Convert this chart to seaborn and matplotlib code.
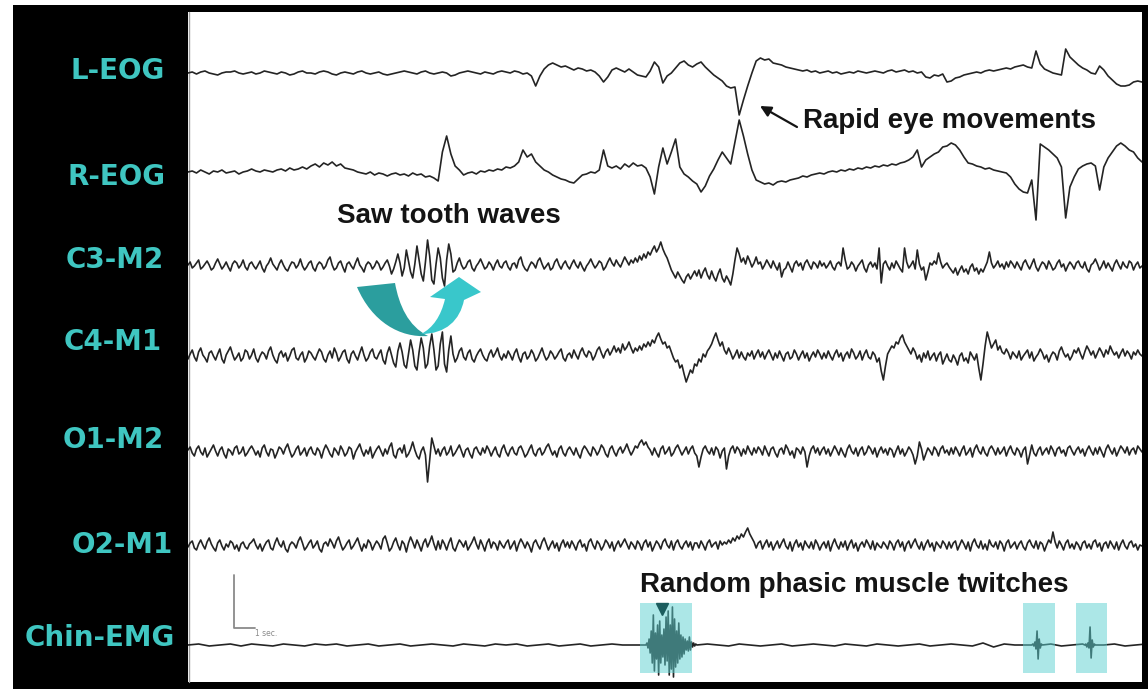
import numpy as np
import pandas as pd
import matplotlib
matplotlib.use("Agg")
import matplotlib.pyplot as plt
from matplotlib.path import Path
from matplotlib.patches import PathPatch, Rectangle
import seaborn as sns

sns.set_theme(style="white")
plt.rcParams["font.family"] = ["DejaVu Sans"]

# ---------------------------------------------------------------------------
# Signals: deflection of each derivation (upward positive)
# EOG sampled every 0.2 s, EEG every 0.1 s
# ---------------------------------------------------------------------------
EOG_STEP = 0.2
EEG_STEP = 0.1

channels = ["L-EOG", "R-EOG", "C3-M2", "C4-M1", "O1-M2", "O2-M1", "Chin-EMG"]

l_eog = (
    [0, 1, -1, 1, 2, 0, -1, -2, 0, 1, 1, 2, 0, -1, 0, 1, -1, 0, 2, 1]
    + [0, -1, 1, 0, -2, -1, 1, 2, 0, 0, -1, 1, 2, 1, -1, -2, 0, 1, 0, -1]
    + [1, 2, 0, -1, 0, 1, -1, -2, -1, 0, 1, 2, 1, 0, -1, 1, 2, 0, -1, 0]
    + [1, 0, -3, -2, 0, 1, 2, 1, 0, -1, 1, 0, -1, 1, 2, 1, 0, 2, 1, -1]
    + [0, -3, -13, -3, 4, 8, 10, 8, 6, 7, 5, 3, 5, 4, 2, 3, 1, -3, -9, -4]
    + [3, 5, 3, 1, 4, 1, -2, -3, -4, 2, 11, 6, -10, -3, 0, 5, 10, 12, 8, 6]
    + [9, 11, 6, 2, -2, -5, -8, -13, -15, -14, -42, -27, -13, 0, 12, 15, 13, 14, 10, 9]
    + [8, 6, 5, 4, 3, 2, 3, 1, 2, 0, 1, 2, 0, 1, -1, 0, 1, 0, 2, 1]
    + [0, 1, 2, 1, 0, 2, 3, 1, 2, 3, 1, 2, 0, 1, -4, -5, -2, -3, -1, -9]
    + [-8, -5, -4, -2, -1, 0, 1, 0, 2, 3, 2, 3, 4, 5, 4, 6, 7, 8, 6, 5]
    + [22, 9, 4, 2, 0, -1, -2, 24, 16, 12, 8, 5, 3, 0, -1, 7, 3, -3, -7, -11,
       -13, -13, -12, -9, -8, -9]
)

r_eog = (
    [0, 1, -1, 2, 0, -2, 1, 0, 2, -1, 0, 1, -2, 0, 1, 3, 1, 0, 2, 1]
    + [0, 2, 3, 1, 4, 2, 3, 5, 3, 6, 8, 5, 9, 7, 10, 6, 8, 4, 3, 2]
    + [0, -1, -2, 0, -3, -1, -2, -4, -2, -1, -3, -2, -4, -1, -3, -2, -5, -4, -6, -9]
    + [20, 36, 18, 6, 2, -3, -1, 0, -2, 1, 0, 2, 1, 3, 2, 5, 4, 6, 10, 22]
    + [15, 18, 10, 6, 2, 0, -3, -5, -7, -8, -10, -11, -7, -3, -2, 0, -1, 2, 22, 6]
    + [4, 6, 3, 8, 5, 9, 6, 7, 4, -5, -22, 5, 24, 8, 20, 33, 5, -2, -5, -9]
    + [-12, -20, -14, -4, 3, 12, 20, 14, 8, 30, 52, 36, 18, 2, -8, -10, -12, -11, -13, -10]
    + [-9, -10, -8, -7, -6, -4, -5, -3, -2, -1, -2, 0, 1, 0, 2, 1, 3, 2, 4, 3]
    + [5, 4, 6, 5, 7, 6, 8, 7, 9, 10, 12, 15, 22, 5, 12, 15, 18, 20, 25, 26]
    + [29, 27, 22, 15, 9, 8, 6, 5, 3, 4, 2, 1, 0, -1, -5, -12, -17, -20, -21, -8]
    + [-48, 28, 25, 22, 18, 14, 5, -46, -15, -5, 3, 6, 8, 9, 6, -18, 5, 14, 20, 26,
       29, 26, 22, 20, 14, 10]
)

c3_m2 = (
    [1, 4, -2, 0, 3, 6, -3, -1, 2, 5, 1, -4, -2, 3, 7, 2, -3, 0, 4, -1, -5, 2, 5, 3, -2, 1, 6, -1, -4, 2]
    + [4, 0, -3, 1, 5, -2, -6, 0, 3, 8, 2, -1, -4, 2, 6, 1, -3, -5, 0, 4, 3, -2, 1, 7, 0, -4, -1, 3, 5, -2]
    + [-5, 1, 4, 2, -3, 0, 6, 9, 1, -4, -2, 3, 5, -1, -6, 2, 4, 0, -3, 3, 8, 1, -2, -6, 1, 4, 2, -3, 0, 5]
    + [2, -4, -1, 3, 6, 0, -8, -3, 4, 12, 3, -10, -2, 16, 5, -6, -12, 2, 20, 6, -8, -15, 4, 26, 10, -14, -18, 2, 18, 8]
    + [-12, -20, 6, 22, 12, -6, -4, 3, 8, 1, -3, -1, 4, 6, -2, -5, 0, 3, 7, 2, -3, -1, 4, 1, -4, 2, 6, 0, -2, 3]
    + [5, -1, -4, 2, 3, -2, 6, 9, 1, -3, -5, 0, 4, 2, -2, 5, 8, 2, -3, 0, 3, -4, -2, 4, 7, 1, -3, 2, 5, 0]
    + [-3, 2, 6, 1, -2, 4, -1, -5, 0, 3, 7, 2, -2, 1, 5, 3, -4, -1, 4, 8, 3, 0, 6, 2, -1, 4, 9, 5, 1, 6]
    + [3, 8, 4, 10, 6, 12, 8, 14, 11, 16, 20, 14, 18, 24, 17, 12, 8, 2, -4, -8, -12, -6, -10, -14, -17, -11, -8, -13, -9, -5]
    + [-10, -4, -12, -6, -2, -9, -13, -5, -11, -15, -8, -3, -12, -16, -10, -14, -19, -8, 6, 18, 12, 4, 8, 2, 10, 5, -1, 3, 9, 2]
    + [4, -3, 1, 6, 2, -2, 5, 0, -4, 3, -11, -4, -2, 4, -1, -6, 2, 5, 0, 3, -4, 3, 6, 1, -3, 4, 2, -2, 5, 0]
    + [3, -2, 1, 5, -1, -4, 2, 4, 0, 18, 6, -3, -1, 4, 1, -5, 0, 3, 6, -2, -6, 1, 4, -1, 3, -3, 18, -17, 2, 5]
    + [0, -4, 3, -2, 5, 1, -3, -6, 18, 4, -2, 1, 5, -3, 16, 2, -4, -1, -14, -6, 3, 1, 5, 2, 13, 4, -2, 1, 3, -1]
    + [-4, -7, -2, -9, -4, 0, -6, -3, -8, -1, 2, -5, -2, -8, -3, -6, -1, 4, 14, 3, -2, 1, 5, -1, 2, -3, 4, -1, 5, 2]
    + [-2, 4, 0, -4, 3, 6, 1, -3, 2, 7, -1, -5, 0, 4, 2, -3, 5, 1, -4, -2, 3, 6, -1, 2, -5, 0, 4, 1, -3, 3]
    + [5, 0, -2, 4, -3, -6, 1, 3, 7, 2, -4, 0, 5, -2, 3, -1, -5, 2, 6, 1, -3, 4, 0, -2, 5, 3, -4, 1, 4, -2]
    + [0]
)

c4_m1 = (
    [-3, 2, 6, -1, -5, 4, 8, 1, -2, -6, 3, 5, 0, -4, 2, 7, -3, -7, 1, 5, 9, 2, -4, -1, 3, -5, -2, 6, 4, -3]
    + [1, 7, -2, -6, 0, 4, 2, -3, 5, 9, 1, -4, -7, 2, 5, -1, 3, -5, 0, 6, 8, -2, -4, 1, 4, -6, -2, 5, 3, -1]
    + [-4, 2, 7, 4, -3, -6, 1, 5, -2, 8, 3, -5, -1, 4, 6, -3, -7, 2, 5, 0, -4, 3, 9, 1, -5, -2, 4, 7, -1, -3]
    + [2, 6, -4, -8, 3, 9, 1, -7, -11, 5, 13, 4, -9, -12, 2, 16, 6, -10, -14, 4, 18, 8, -12, -8, 10, 22, 6, -14, -10, 12]
    + [24, -8, -16, 6, 20, 2, -6, -2, 5, 8, -1, -4, 3, 6, -3, -6, 0, 4, 7, 1, -3, -5, 2, 6, -1, 3, 8, 0, -4, 2]
    + [-2, 5, 1, -4, 3, 7, -1, -6, 2, 4, -3, 0, 6, 2, -5, -2, 3, 8, 1, -4, -1, 5, 2, -3, 0, 4, 7, -2, -5, 1]
    + [3, -2, 6, 1, -3, 4, 8, 2, -1, 5, 3, -4, 0, 6, 9, 3, -2, 4, 7, 1, 5, 10, 4, 8, 3, 12, 6, 9, 14, 8]
    + [3, 8, 5, 10, 6, 12, 9, 14, 10, 16, 13, 19, 23, 17, 12, 14, 8, 10, 4, -2, -6, -4, -12, -9, -18, -26, -20, -14, -17, -8]
    + [-10, -3, -6, 2, -1, 5, 8, 12, 18, 23, 16, 10, 14, 6, 2, 8, 3, -3, 1, 6, -2, 4, -1, -4, 3, 0, 5, -3, 2, 6]
    + [-1, 4, -3, 2, 6, 1, -4, 3, -2, 5, 0, -5, 2, 4, -3, -1, 6, 2, -4, 1, 5, -2, 3, -5, 0, 4, -1, 6, 2, -3]
    + [3, -2, 5, 0, -4, 2, 6, -1, 3, -5, 1, 4, -2, 7, 3, -3, 0, 5, -4, 2, 6, -1, -3, 4, 1, -6, -2, -15, -24, -10]
    + [2, 6, 10, 8, 14, 12, 18, 21, 14, 10, 6, 2, 8, 4, -3, 1, -6, 3, -2, 5, -4, 0, 3, -5, 1, 4, -8, -3, 2, -4]
    + [-6, 1, -3, -9, 0, 3, -5, -2, -7, 4, 0, -4, 2, -12, -24, -8, 10, 24, 16, 8, 12, 16, 6, 10, 4, 2, 7, 3, -3, 4]
    + [1, -2, 5, -4, 0, 3, 6, -2, 4, -5, -1, 2, 7, 3, -3, 1, -6, 0, 4, 2, -4, 5, 9, 3, -1, 2, -4, 0, 6, 3]
    + [8, 2, -3, 4, 10, 6, 1, 5, -2, 3, 8, 4, -1, 6, 2, 10, 5, 1, 4, -2, 3, 7, 0, 5, 2, -3, 4, 1, 6, 2]
    + [0]
)

o1_m2 = (
    [2, 5, -1, -4, 3, 6, 0, -3, 4, -5, -1, 3, 7, 1, -4, 2, 5, -2, -6, 3, 1, -3, 4, 6, -2, 0, 5, -4, -1, 3]
    + [6, 2, -3, 1, -5, 4, 7, 0, -4, 3, 2, -6, -1, 5, 3, -2, 4, 8, 1, -5, -2, 3, 6, -3, 0, 4, -4, 2, 5, -1]
    + [-3, 4, 1, -6, 2, 7, 3, -2, -5, 4, 1, -3, 6, 2, -4, -1, 5, 3, -7, 0, 4, 8, 1, -4, 2, -2, 5, -6, -1, 3]
    + [6, 1, -4, 3, -2, 5, 9, -3, -6, 2, 4, -1, 7, -5, -2, 3, 10, 2, -4, -7, 1, 5, -3, -30, -8, 14, 6, -2, 3, -4]
    + [2, 5, -3, 0, 6, -4, -1, 3, 7, 1, -5, 2, 4, -2, -6, 3, 5, 0, -3, 4, -1, 6, 2, -4, 1, 5, -2, -5, 3, 7]
    + [0, -4, 2, 5, -1, -3, 4, 6, 1, -5, -2, 3, 7, -1, -4, 2, 4, -3, 0, 5, 8, 2, -3, 1, -5, 3, 6, -1, -4, 2]
    + [5, 1, -3, 4, -2, -6, 2, 6, 3, -1, -4, 5, 2, -3, 1, 7, 4, -2, -5, 3, 6, 0, -4, 2, 5, -1, 3, 8, 2, -3]
    + [1, 6, 4, 9, 12, 7, 10, 5, 2, -3, 4, -1, -5, 3, 6, -2, 1, 5, -4, -1, 4, 7, 2, -3, 1, 5, -2, 3, 6, -1]
    + [-4, -15, -5, 3, 6, 1, -2, 4, -3, 5, 2, -6, 1, 4, -17, -4, 3, 6, -1, 5, 2, -4, 3, -2, 6, 1, -3, 4, -1, 5]
    + [2, -3, 6, 1, -4, 3, 5, -1, -5, 2, 4, -2, 7, 3, -3, 1, -6, 4, 2, -2, 5, 0, -15, -4, 3, 6, -1, 4, -3, 2]
    + [5, -2, 3, -4, 1, 6, 2, -3, 4, -1, -5, 3, 7, 1, -2, 4, -4, 2, 5, -3, 0, 6, 3, -2, 4, -5, 1, 5, -1, 3]
    + [-3, 4, 2, -5, 1, 6, -2, 3, -4, 0, 5, 2, -3, -12, -4, 10, 3, -8, -2, 4, 1, -3, 5, 2, -4, 3, 6, -1, 2, -3]
    + [4, -2, 5, 1, -4, 2, 6, -3, 0, 4, -5, 3, 7, 1, -2, 5, -1, -4, 3, 6, 2, -3, 4, -2, 1, 5, -4, 2, 6, 0]
    + [-3, 4, 1, -5, 2, 5, -12, -3, 7, -1, -4, 2, 5, -3, 1, 4, -2, 6, 2, -4, 3, 5, -1, 2, -4, 4, 6, 1, -3, 2]
    + [5, -1, 3, -4, 2, 6, 1, -3, 4, -2, 5, 0, -5, 3, 7, 2, -2, 4, -4, 1, 6, 3, -1, 5, -3, 2, 4, -2, 6, 3]
    + [0]
)

o2_m1 = (
    [-1, 3, 5, -2, -4, 2, 6, 1, -3, 4, 8, 2, -2, -5, 3, 6, 0, -4, 2, -1, 5, 3, -3, 1, -5, 2, 4, -1, -3, 2]
    + [4, 7, 1, -3, 2, -5, 0, 4, 6, -2, -4, 3, 8, 2, -1, 5, -3, -6, 1, 4, 2, -2, 5, 9, 3, -4, -1, 3, 6, -2]
    + [1, 5, -3, -6, 2, 4, 0, 7, 3, -2, 5, 9, 2, -4, -1, 3, 6, -3, 0, 4, 8, 1, -5, 2, -2, 6, 3, -4, 1, 5]
    + [2, -3, 7, 10, 3, -5, -2, 4, 8, 1, -4, 5, 2, -6, 3, 9, 4, -2, 6, 1, -5, 3, 7, -1, 4, 10, 2, -4, 5, -3]
    + [6, 2, -4, 3, 8, -2, -5, 1, 6, 3, -1, 5, -4, 0, 4, 9, 2, -3, 6, 1, -5, 3, 7, -2, 4, 2, -4, 5, 1, -2]
    + [3, 6, -3, 1, 5, -5, 2, 7, 3, -2, 4, 0, -6, 3, 6, 1, -3, 4, 8, 2, -4, 1, 5, -2, 3, -5, 2, 6, -1, 4]
    + [-2, 5, 1, -4, 3, 6, -1, 2, -5, 4, 7, 1, -3, 5, 2, -4, 0, 6, 3, -2, 4, -5, 1, 5, -1, 3, 7, 2, -3, 4]
    + [1, -3, 5, 2, -4, 3, 6, -1, 4, -5, 0, 5, 2, -3, 4, 7, 1, -2, 5, -4, 3, 6, 0, -3, 2, 5, -1, 4, -4, 3]
    + [3, -2, 5, 1, -4, 3, 6, -1, 2, 4, -3, 5, 1, 4, 2, 6, 3, 8, 5, 10, 7, 12, 9, 14, 18, 12, 8, 4, -2, 3]
    + [5, -3, 2, 6, -1, 4, -4, 1, 5, -2, 3, 7, 0, -3, 4, -5, 2, 6, -1, 3, -4, 5, 1, -2, 4, -3, 6, 2, -4, 1]
    + [4, -2, 5, -5, 2, 7, 1, -3, 4, -1, 5, -4, 2, 6, -2, 3, -5, 1, 4, -1, 6, 2, -3, 5, -4, 3, 0, -2, 4, 1]
    + [-3, 5, 2, -4, 3, 6, -1, 4, -5, 2, 5, -2, 3, 7, 1, -3, 4, -4, 2, 6, -1, 3, -5, 4, 1, -2, 5, 2, -3, 4]
    + [-2, 3, 5, -4, 1, 6, 2, -3, 4, -5, 3, 7, 1, -2, 5, -3, 2, -4, 6, 1, -1, 4, -3, 5, 2, -5, 3, 6, -2, 1]
    + [4, -3, 2, 5, -1, -4, 3, 6, 1, -2, 5, -3, 4, 2, -5, 1, 6, 3, 14, 4, -2, 5, 1, -4, 3, 6, -2, 2, -3, 4]
    + [1, -4, 3, 5, -2, 2, -3, 4, 6, -1, 3, -5, 2, 4, -2, 5, 1, -3, 4, -4, 2, 6, 0, -3, 3, 5, -1, 2, -4, 1]
    + [0]
)

# Chin EMG: quiet baseline (0.5 s steps) and dense twitch bursts (0.05 s steps)
emg_rest_1 = [0, 1, -1, 0, 1, -1, 1, 0, -1, 1, 0, -1, 1, 0, 1, -1, 0, 1, -1, 0, 1,
              -1, 0, 1, 0, -1, 1, 0, -1, 1, 0, 1, -1, 0, 1, -1, 0, 1, -1, 0, 1, 0]
emg_burst_1 = [0, 2, -3, 6, -8, 14, -18, 30, -26, 12,
               -14, 20, -30, 24, -18, 10, -12, 16, -20, 28,
               -16, 34, -30, 20, -24, 38, -32, 26, -22, 14,
               -18, 22, -14, 10, -12, 8, -9, 6, -5, 4,
               -6, 8, -5, 3, -2, 2, -1, 1, 0]
emg_rest_2 = [1, 0, -1, 1, 0, -1, 0, 1, -1, 0, 1, 0, -1, 1, 0, -1, 1, 0, -1, 0,
              1, -1, 0, 1, 0, -1, 2, -2, 1, 0]
emg_burst_2 = [0, 1, -1, 3, -4, 14, -14, 6, -3, 1, 0]
emg_rest_3 = [1, -1, 0, 1]
emg_burst_3 = [0, 1, -2, 2, -3, 18, -13, 5, -2, 1, 0]
emg_rest_4 = [0, 1, -1, 0, 1]

emg_segments = [  # (start s, step s, values)
    (0.0, 0.5, emg_rest_1),
    (21.6, 0.05, emg_burst_1),
    (24.5, 0.5, emg_rest_2),
    (39.8, 0.05, emg_burst_2),
    (40.7, 0.5, emg_rest_3),
    (42.3, 0.05, emg_burst_3),
    (43.2, 0.5, emg_rest_4),
]

# Phasic twitch windows (s) and the marked twitch
twitch_windows = [(21.32, 23.77), (39.4, 40.9), (41.9, 43.35)]
marked_twitch_time = 22.35

# ---------------------------------------------------------------------------
# Page layout (pixel rows of each trace baseline on a 1148 x 689 page)
# ---------------------------------------------------------------------------
W, H = 1148, 689
ROW = {"L-EOG": 73, "R-EOG": 172, "C3-M2": 266, "C4-M1": 356,
       "O1-M2": 452, "O2-M1": 546, "Chin-EMG": 645}
LABEL_RIGHT = {"L-EOG": 165, "R-EOG": 165, "C3-M2": 164, "C4-M1": 162,
               "O1-M2": 164, "O2-M1": 173, "Chin-EMG": 175}
LABEL_BASE = {"L-EOG": 79, "R-EOG": 185, "C3-M2": 268, "C4-M1": 350,
              "O1-M2": 448, "O2-M1": 553, "Chin-EMG": 646}
PANEL = (188, 12, 1142, 682)          # left, top, right, bottom in pixels
PX_PER_SEC = 21.2

LABEL_COLOR = "#3fc6c1"
TRACE_COLOR = "#242424"

# ---------------------------------------------------------------------------
# Long-form table for seaborn
# ---------------------------------------------------------------------------
signal_sets = [
    ("L-EOG", l_eog, EOG_STEP), ("R-EOG", r_eog, EOG_STEP),
    ("C3-M2", c3_m2, EEG_STEP), ("C4-M1", c4_m1, EEG_STEP),
    ("O1-M2", o1_m2, EEG_STEP), ("O2-M1", o2_m1, EEG_STEP),
]
frames = []
for name, vals, step in signal_sets:
    v = np.asarray(vals, dtype=float)
    frames.append(pd.DataFrame({
        "time": np.arange(len(v)) * step,
        "pos": ROW[name] - v,
        "channel": name,
    }))
emg_time, emg_vals = [], []
for start, step, vals in emg_segments:
    emg_time.extend(start + step * np.arange(len(vals)))
    emg_vals.extend(vals)
frames.append(pd.DataFrame({
    "time": emg_time,
    "pos": ROW["Chin-EMG"] - np.asarray(emg_vals, dtype=float),
    "channel": "Chin-EMG",
}))
traces = pd.concat(frames, ignore_index=True)

# ---------------------------------------------------------------------------
# Figure
# ---------------------------------------------------------------------------
fig = plt.figure(figsize=(W / 100, H / 100), dpi=100)
fig.patch.set_facecolor("white")

# background: black frame + white recording panel
bg = fig.add_axes([0, 0, 1, 1], zorder=0)
bg.set_xlim(0, W)
bg.set_ylim(H, 0)
bg.set_axis_off()
bg.add_patch(Rectangle((13, 5), W - 13, H - 5, color="black", lw=0))
l, t, r, b = PANEL
bg.add_patch(Rectangle((l, t), r - l, b - t, color="white", lw=0))
bg.plot([l + 1, l + 1], [t, b], color="#a0a0a0", lw=1.0)

# recording panel
ax = fig.add_axes([l / W, 1 - b / H, (r - l) / W, (b - t) / H], zorder=1)
ax.patch.set_alpha(0)
sns.lineplot(data=traces, x="time", y="pos", units="channel", estimator=None,
             color=TRACE_COLOR, lw=1.2, ax=ax, legend=False)
ax.set_xlim(0, (r - l) / PX_PER_SEC)
ax.set_ylim(b, t)
ax.set_axis_off()

# twitch highlights
for t0, t1 in twitch_windows:
    ax.add_patch(Rectangle((t0, 603), t1 - t0, 70, facecolor="#5ad0d0",
                           alpha=0.5, lw=0, zorder=3))
ax.plot([marked_twitch_time], [609], marker="v", ms=9, color="#1c5d5e",
        zorder=4, ls="none")

# calibration bar (1 s)
bar_t = (234 - l) / PX_PER_SEC
ax.plot([bar_t, bar_t, bar_t + 1.0], [575, 628, 628], color="#8a8a8a", lw=1.3)
ax.text(bar_t + 1.0, 633, "1 sec.", fontsize=5.5, color="#8a8a8a",
        ha="left", va="center")

# overlay for labels and annotations (page pixel coordinates)
ov = fig.add_axes([0, 0, 1, 1], zorder=5)
ov.set_xlim(0, W)
ov.set_ylim(H, 0)
ov.set_axis_off()
ov.patch.set_alpha(0)

for name in channels:
    ov.text(LABEL_RIGHT[name], LABEL_BASE[name], name, color=LABEL_COLOR,
            fontsize=20, fontweight="bold", family="DejaVu Sans",
            ha="right", va="baseline")

note_font = dict(fontsize=20, fontweight="bold", family="Liberation Sans",
                 color="#141414", ha="left", va="baseline")
ov.text(803, 128, "Rapid eye movements", **note_font)
ov.text(337, 223, "Saw tooth waves", **note_font)
ov.text(640, 592, "Random phasic muscle twitches", **note_font)

ov.annotate("", xy=(760, 106), xytext=(797, 127),
            arrowprops=dict(arrowstyle="-|>", color="#141414", lw=1.6,
                            mutation_scale=16, shrinkA=0, shrinkB=0))

# curved arrows pointing at the saw-tooth waves
left_arrow = Path(
    [(357, 287), (395, 283), (399, 305), (408, 326), (428, 336),
     (400, 338), (372, 322), (357, 287), (357, 287)],
    [Path.MOVETO, Path.LINETO, Path.CURVE4, Path.CURVE4, Path.CURVE4,
     Path.CURVE4, Path.CURVE4, Path.CURVE4, Path.CLOSEPOLY])
right_arrow = Path(
    [(421, 334), (446, 334), (460, 320), (464, 300), (481, 292), (459, 277),
     (430, 297), (445, 299), (441, 316), (433, 328), (421, 334), (421, 334)],
    [Path.MOVETO, Path.CURVE4, Path.CURVE4, Path.CURVE4, Path.LINETO,
     Path.LINETO, Path.LINETO, Path.LINETO, Path.CURVE4, Path.CURVE4,
     Path.CURVE4, Path.CLOSEPOLY])
ov.add_patch(PathPatch(left_arrow, facecolor="#2b9e9e", edgecolor="none"))
ov.add_patch(PathPatch(right_arrow, facecolor="#39c7cb", edgecolor="none"))

fig.savefig("out.png", dpi=100, facecolor=fig.get_facecolor())
